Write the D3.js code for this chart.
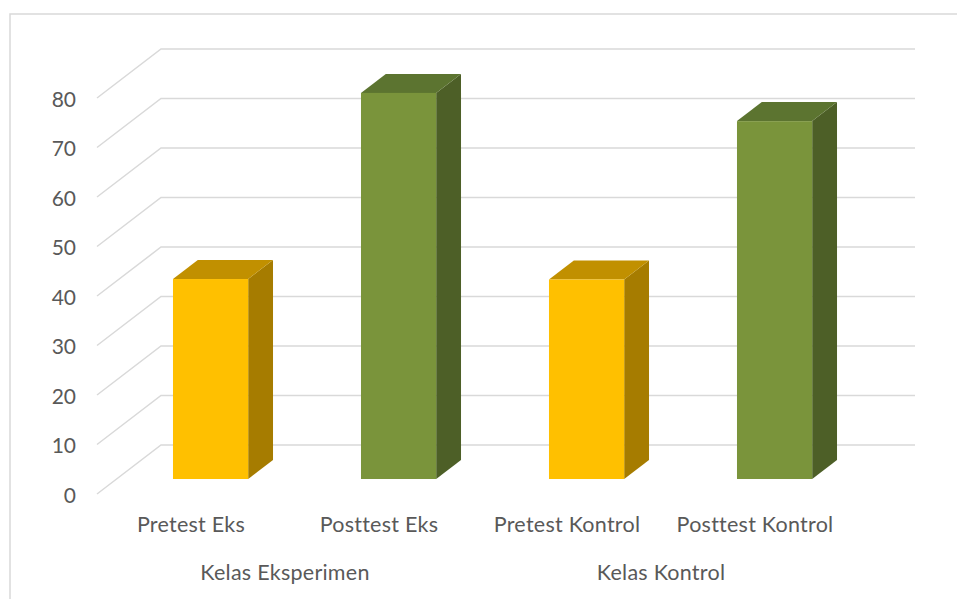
<!DOCTYPE html>
<html>
<head>
<meta charset="utf-8">
<script src="https://cdn.jsdelivr.net/npm/d3@7"></script>
<style>
  html, body { margin: 0; padding: 0; background: #fff; }
  svg { display: block; }
  text { font-family: Lato, "Open Sans", sans-serif; fill: #595959; }
</style>
</head>
<body>
<svg id="chart" width="957" height="599"></svg>
<script>
// ---- data ----
const categories = ["Pretest Eks", "Posttest Eks", "Pretest Kontrol", "Posttest Kontrol"];
const values = [40.4, 78.0, 40.3, 72.3];
const groups = ["Kelas Eksperimen", "Kelas Kontrol"];
const groupOf = [0, 0, 1, 1];
const yTicks = [0, 10, 20, 30, 40, 50, 60, 70, 80];
const seriesKind = ["pre", "post", "pre", "post"];

// ---- styles ----
const palette = {
  pre:  { front: "#FFC000", top: "#C19000", side: "#A67C00" },
  post: { front: "#7A943B", top: "#5C7430", side: "#4D5F27" }
};

const svg = d3.select("#chart");

// frame
svg.append("rect").attr("x", 10).attr("y", 14).attr("width", 960).attr("height", 600)
  .attr("fill", "#fff").attr("stroke", "#D9D9D9").attr("stroke-width", 1.5);

// back-wall scales
const x = d3.scaleBand().domain(categories).range([161, 913]).padding(0);
const y = d3.scaleLinear().domain([0, 80]).range([445, 49]);
const gridRight = 915;
const DX = 64, DY = 49;             // full floor depth offset (front = back - DX, + DY)
const tFront = 0.694, tBack = 0.306; // bar depth (fraction of depth measured from back)
const barFrac = 0.4;

// gridlines (diagonal on side wall + horizontal on back wall)
const grid = svg.append("g").attr("stroke", "#D9D9D9").attr("stroke-width", 1.5).attr("fill", "none");
yTicks.forEach(v => {
  grid.append("polyline")
    .attr("points", [[161 - DX, y(v) + DY], [161, y(v)], [gridRight, y(v)]].map(p => p.join(",")).join(" "));
});

// y tick labels
svg.append("g").selectAll("text").data(yTicks).join("text")
  .attr("x", 76).attr("y", d => y(d) + DY)
  .attr("text-anchor", "end").attr("dominant-baseline", "central")
  .attr("font-size", 21).text(d => d);

// bars
const bars = svg.append("g");
categories.forEach((c, i) => {
  const v = values[i];
  const col = palette[seriesKind[i]];
  const bw = x.bandwidth() * barFrac;
  const cx = x(c) + x.bandwidth() / 2;
  const fx0 = cx - bw / 2 - DX * tFront, fx1 = cx + bw / 2 - DX * tFront;
  const fy0 = y(0) + DY * tFront, fy1 = y(v) + DY * tFront;
  const bx0 = cx - bw / 2 - DX * tBack, bx1 = cx + bw / 2 - DX * tBack;
  const by0 = y(0) + DY * tBack, by1 = y(v) + DY * tBack;
  const pts = a => a.map(p => p.join(",")).join(" ");
  bars.append("polygon").attr("points", pts([[fx1, fy0], [fx1, fy1], [bx1, by1], [bx1, by0]]))
    .attr("fill", col.side);
  bars.append("polygon").attr("points", pts([[fx0, fy1], [fx1, fy1], [bx1, by1], [bx0, by1]]))
    .attr("fill", col.top);
  bars.append("rect").attr("x", fx0).attr("y", fy1).attr("width", fx1 - fx0).attr("height", fy0 - fy1)
    .attr("fill", col.front);
});

// category labels (front plane)
const xf = c => x(c) + x.bandwidth() / 2 - DX;
svg.append("g").selectAll("text").data(categories).join("text")
  .attr("x", d => xf(d)).attr("y", 524)
  .attr("text-anchor", "middle").attr("dominant-baseline", "central")
  .attr("font-size", 21.5).attr("letter-spacing", 0.25).text(d => d);

// group labels
svg.append("g").selectAll("text").data(groups).join("text")
  .attr("x", (g, gi) => {
    const cs = categories.filter((c, i) => groupOf[i] === gi);
    return (x(cs[0]) + x(cs[cs.length - 1]) + x.bandwidth()) / 2 - DX;
  })
  .attr("y", 572)
  .attr("text-anchor", "middle").attr("dominant-baseline", "central")
  .attr("font-size", 21.5).attr("letter-spacing", 0.25).text(d => d);
</script>
</body>
</html>
